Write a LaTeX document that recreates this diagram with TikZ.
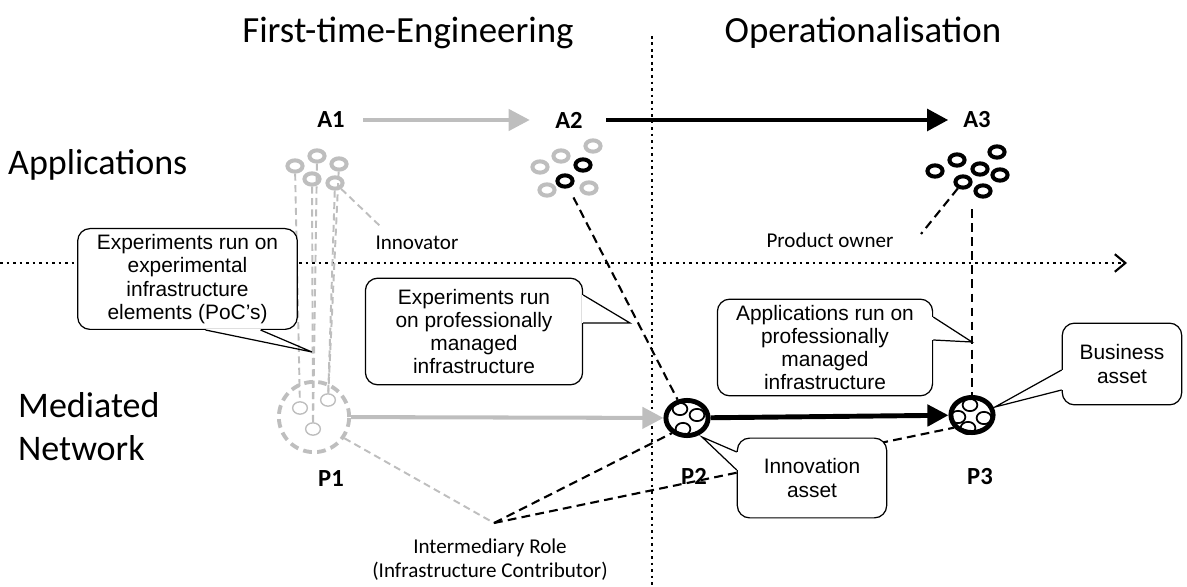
\documentclass[tikz,border=0pt]{standalone}
\usepackage{fontspec}
\setmainfont{Carlito}
\newfontfamily\calloutfont{Liberation Sans}
\usetikzlibrary{arrows.meta,positioning,shapes.geometric,calc}
\definecolor{fadegray}{RGB}{190,190,190}
\tikzset{
  ring/.style={ellipse, draw, line width=2.3pt, minimum width=8.6pt, minimum height=6.4pt, inner sep=0pt},
  hub/.style={ellipse, draw, line width=2.8pt, minimum width=24pt, minimum height=20pt, inner sep=0pt},
  cell/.style={ellipse, draw, line width=1pt, minimum width=8.4pt, minimum height=7pt, inner sep=0pt},
  tag/.style={font=\bfseries\fontsize{14}{16}\selectfont},
  note/.style={font=\fontsize{12}{13.6}\selectfont},
  layer/.style={font=\fontsize{20.5}{24.4}\selectfont},
  bubble/.style={draw, rounded corners=7pt, fill=white, line width=0.7pt, align=center,
    font=\calloutfont\fontsize{11.9}{13.2}\selectfont},
  graydash/.style={fadegray, line width=1.1pt, dash pattern=on 4pt off 2.5pt},
  blackdash/.style={black, line width=1.2pt, dash pattern=on 5pt off 3pt},
  dotline/.style={line width=1.6pt, dash pattern=on 1.6pt off 2.1pt},
  flowgray/.style={fadegray, line width=2.3pt, -{Triangle[length=12pt,width=12pt]}},
  flowblack/.style={black, line width=2.8pt, -{Triangle[length=12pt,width=12pt]}}
}

\begin{document}
\begin{tikzpicture}[x=0.02cm, y=-0.02cm]
\useasboundingbox (0,0) rectangle (1187,587);

% phases and layers
\node [font=\fontsize{21}{25}\selectfont] (fte) at (408,33) {First-time-Engineering};
\node [font=\fontsize{21}{25}\selectfont] (ops) at (863,33) {Operationalisation};
\node [layer, anchor=west] (apps) at (2,165) {Applications};
\node [layer, anchor=west, align=left] (medi) at (12,427) {Mediated\\Network};

% dividers
\coordinate (divtop) at (652,36);
\coordinate (divbot) at (652,587);
\draw [dotline] (divtop) -- (divbot);
\coordinate (axl) at (0,263);
\coordinate (axr) at (1127,263);
\draw [dotline, -{Straight Barb[length=6pt,width=10pt,line width=1.2pt]}] (axl) -- (axr);

% application rings
\foreach \x/\y [count=\i] in {295/166,317/156,339/164,312/179,335/183}
  \node [ring, draw=fadegray] (ra\i) at (\x,\y) {};
\foreach \x/\y/\c [count=\i] in {540/167/fadegray,561/156/fadegray,593/146/fadegray,547/190/fadegray,589/188/fadegray,583/165/black,565/181/black}
  \node [ring, draw=\c] (rb\i) at (\x,\y) {};
\foreach \x/\y [count=\i] in {935/171,957/160,997/152,980/169,1000/175,963/182,983/191}
  \node [ring] (rc\i) at (\x,\y) {};

% infrastructure hubs
\node [circle, draw=fadegray, line width=2.2pt, dash pattern=on 5pt off 3pt, minimum size=40pt, inner sep=0pt] (p1) at (314,417) {};
\node [cell, draw=fadegray, line width=0.8pt] (qa1) at (300,408) {};
\node [cell, draw=fadegray, line width=0.8pt] (qa2) at (328,400) {};
\node [cell, draw=fadegray, line width=0.8pt] (qa3) at (313,429) {};
\node [hub] (p2) at (687,418) {};
\foreach \x/\y [count=\i] in {680/409,697/415,683/429}
  \node [cell] (qb\i) at (\x,\y) {};
\node [hub] (p3) at (972,415) {};
\foreach \x/\y [count=\i] in {970/405,958/417,984/418,968/428}
  \node [cell] (qc\i) at (\x,\y) {};

% labels
\node [tag] (a1) at (331,120) {A1};
\node [tag] (a2) at (569,120) {A2};
\node [tag] (a3) at (977,120) {A3};
\node [tag] (pl1) at (331,479) {P1};
\node [tag] (pl2) at (694,476) {P2};
\node [tag] (pl3) at (980,477) {P3};
\node [note] (innov) at (417,243) {Innovator};
\node [note] (owner) at (830,240) {Product owner};
\node [note, align=center] (inter) at (490,560) {Intermediary Role\\(Infrastructure Contributor)};

% flows
\draw [flowgray, shorten <=7pt, shorten >=11pt] (a1) -- (a2);
\draw [flowblack, shorten <=10pt, shorten >=5pt] (a2) -- (a3);
\draw [flowgray] (p1) -- (p2);
\draw [flowblack] (p2) -- (p3);

% roles
\draw [graydash] (ra1) -- (qa1);
\draw [graydash] (ra2) -- (qa3);
\draw [graydash] (ra4) -- (qa3);
\draw [graydash] (ra3) -- (qa2);
\draw [graydash] (ra5) -- (qa2);
\coordinate (innovtip) at (380,226);
\draw [graydash] (ra5) -- (innovtip);
\coordinate (ownertip) at (921,234);
\draw [blackdash] (rc6) -- (ownertip);
\draw [blackdash, shorten <=6pt] (rb7) -- (p2);
\draw [blackdash, shorten <=6pt] (p3.north |- rc7.south) -- (p3.north);
\coordinate (meet) at (494,523);
\draw [graydash] (p1.-35) -- (meet);
\draw [blackdash] (meet) -- (p2.225);
\draw [blackdash] (meet) -- (p3.215);

% callouts
\node [bubble, minimum width=125pt, minimum height=52pt] (c1) at (187.5,279) {Experiments run on\\experimental\\infrastructure\\elements (PoC’s)};
\coordinate (c1tip) at (312,352);
\draw [white, line width=1.6pt] ($(c1.south)+(18,0)$) -- ($(c1.south)+(73,0)$);
\draw [line width=0.7pt] ($(c1.south)+(18,0)$) -- (c1tip) -- ($(c1.south)+(73,0)$);

\node [bubble, minimum width=123.6pt, minimum height=60.7pt] (c2) at (474,331.5) {Experiments run\\on professionally\\managed\\infrastructure};
\coordinate (c2tip) at (630,323);
\draw [white, line width=1.6pt] ($(c2.east)+(0,-36.5)$) -- ($(c2.east)+(0,-8.5)$);
\draw [line width=0.7pt] ($(c2.east)+(0,-36.5)$) -- (c2tip) -- ($(c2.east)+(0,-8.5)$);

\node [bubble, minimum width=122.5pt, minimum height=53.9pt] (c3) at (825,347.5) {Applications run on\\professionally\\managed\\infrastructure};
\coordinate (c3tip) at (972,342);
\draw [white, line width=1.6pt] ($(c3.east)+(0,-30.5)$) -- ($(c3.east)+(0,-7.5)$);
\draw [line width=0.7pt] ($(c3.east)+(0,-30.5)$) -- (c3tip) -- ($(c3.east)+(0,-7.5)$);

\node [bubble, minimum width=68pt, minimum height=46.5pt] (c4) at (1122,364) {Business\\asset};
\coordinate (c4tip) at (995,407);
\draw [white, line width=1.6pt] ($(c4.west)+(0,6)$) -- ($(c4.west)+(0,26)$);
\draw [line width=0.7pt] ($(c4.west)+(0,6)$) -- (c4tip) -- ($(c4.west)+(0,26)$);

\node [bubble, minimum width=85pt, minimum height=45.4pt] (c5) at (812,478) {Innovation\\asset};
\coordinate (c5tip) at (702,437);
\draw [white, line width=1.6pt] ($(c5.west)+(0,-26)$) -- ($(c5.west)+(0,-8)$);
\draw [line width=0.7pt] ($(c5.west)+(0,-26)$) -- (c5tip) -- ($(c5.west)+(0,-8)$);
\end{tikzpicture}
\end{document}
